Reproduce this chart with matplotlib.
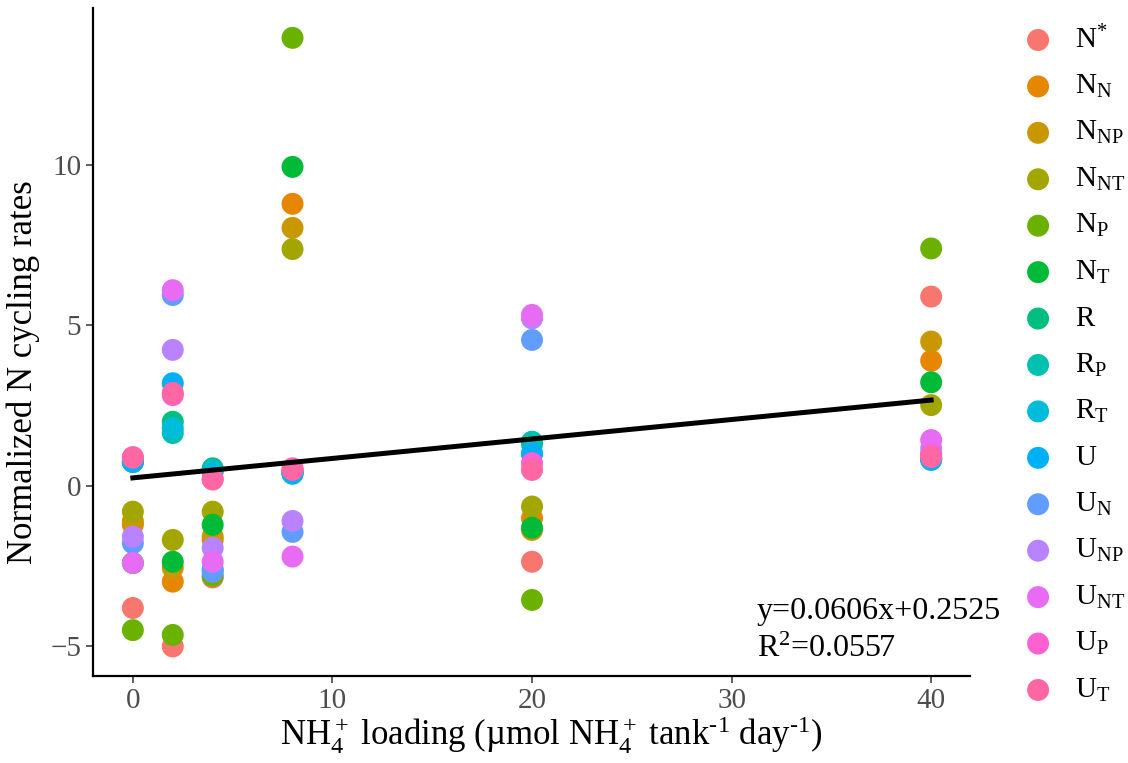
import matplotlib.pyplot as plt
import numpy as np

plt.rcParams["font.family"] = ["Liberation Serif", "DejaVu Serif"]
plt.rcParams["mathtext.fontset"] = "custom"
plt.rcParams["mathtext.rm"] = "Liberation Serif"
plt.rcParams["mathtext.it"] = "Liberation Serif:italic"

loading = [0, 2, 4, 8, 20, 40]

labels = [r"N$^{*}$", r"N$_{\mathrm{N}}$", r"N$_{\mathrm{NP}}$", r"N$_{\mathrm{NT}}$",
          r"N$_{\mathrm{P}}$", r"N$_{\mathrm{T}}$", "R", r"R$_{\mathrm{P}}$",
          r"R$_{\mathrm{T}}$", "U", r"U$_{\mathrm{N}}$", r"U$_{\mathrm{NP}}$",
          r"U$_{\mathrm{NT}}$", r"U$_{\mathrm{P}}$", r"U$_{\mathrm{T}}$"]
colors = ["#F8766D", "#E58700", "#C99800", "#A3A500", "#6BB100", "#00BA38",
          "#00BF7D", "#00C0AF", "#00BCD8", "#00B0F6", "#619CFF", "#B983FF",
          "#E76BF3", "#FD61D1", "#FF67A4"]

# normalized rates, one row per treatment, columns follow `loading`
rates = [
    [-3.80, -5.00, -2.85, 0.45, -2.36, 5.90],
    [-1.20, -2.98, -1.68, 8.79, -1.00, 3.90],
    [-1.10, -2.55, -1.58, 8.04, -1.37, 4.50],
    [-0.80, -1.68, -0.80, 7.38, -0.64, 2.52],
    [-4.49, -4.64, -2.80, 13.96, -3.55, 7.40],
    [-2.40, -2.36, -1.21, 9.94, -1.30, 3.23],
    [0.80, 2.00, 0.55, 0.45, 1.30, 0.85],
    [0.75, 1.65, 0.50, 0.40, 1.38, 0.85],
    [0.75, 1.80, 0.45, 0.38, 1.02, 0.85],
    [0.75, 3.20, -2.60, 0.40, 1.00, 0.81],
    [-1.78, 5.95, -2.67, -1.43, 4.55, 1.00],
    [-1.58, 4.24, -1.93, -1.09, 5.22, 1.17],
    [-2.40, 6.10, -2.36, -2.20, 5.33, 1.43],
    [0.90, 2.83, 0.22, 0.55, 0.71, 0.97],
    [0.88, 2.90, 0.20, 0.50, 0.50, 0.90],
]

slope, intercept, r2 = 0.0606, 0.2525, 0.0557

fig = plt.figure(figsize=(11.28, 7.63), dpi=100)
ax = fig.add_axes([0.0824, 0.114, 0.7776, 0.8755])

for lab, col, vals in zip(labels, colors, rates):
    ax.scatter(loading, vals, s=250, color=col, edgecolors="none", zorder=2)

xl = np.array([0, 40])
ax.plot(xl, slope * xl + intercept, color="black", lw=3.6, zorder=3)

ax.text(31.25, -3.92, f"y={slope}x+{intercept}", fontsize=23, va="center", ha="left")
ax.text(31.25, -5.1, f"R$^2$={r2}", fontsize=23, va="center", ha="left")

ax.set_xlim(-2.0, 41.95)
ax.set_ylim(-5.92, 14.89)
ax.set_xticks([0, 10, 20, 30, 40])
ax.set_yticks([-5, 0, 5, 10])
ax.set_yticklabels(["\u22125", "0", "5", "10"])
ax.tick_params(labelsize=21, labelcolor="#4D4D4D", color="#333333", length=5, width=1.1)
for side in ["top", "right"]:
    ax.spines[side].set_visible(False)
for side in ["left", "bottom"]:
    ax.spines[side].set_linewidth(1.6)

ax.set_xlabel(r"NH$_4^+$ loading (µmol NH$_4^+$ tank$^{\text{-}1}$ day$^{\text{-}1}$)",
              fontsize=25)
ax.xaxis.set_label_coords(0.522, -0.058)
ax.set_ylabel("Normalized N cycling rates", fontsize=25)
ax.yaxis.set_label_coords(-0.06, 0.455)

# legend column on the right
lg = fig.add_axes([0.9043, 0.0653, 0.0957, 0.9127])
lg.set_xlim(0, 1)
lg.set_ylim(len(labels) - 0.5, -0.5)
lg.axis("off")
for i, (lab, col) in enumerate(zip(labels, colors)):
    lg.scatter(0.167, i, s=250, color=col, edgecolors="none")
    lg.text(0.509, i, lab, fontsize=21, va="center", ha="left")

fig.savefig("out.png", dpi=100)
